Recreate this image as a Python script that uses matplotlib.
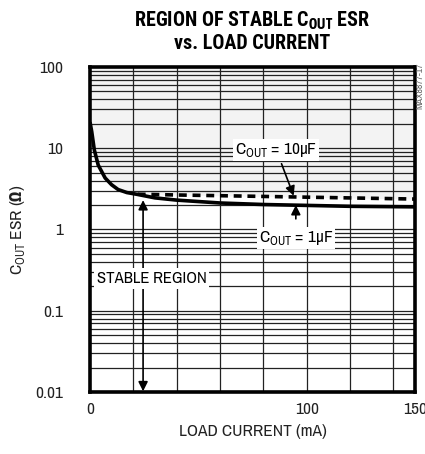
import matplotlib
matplotlib.use('Agg')
import matplotlib.pyplot as plt

plt.rcParams['font.family'] = ['Archivo Narrow', 'DejaVu Sans']
plt.rcParams['mathtext.fontset'] = 'custom'
plt.rcParams['mathtext.rm'] = 'Archivo Narrow'
plt.rcParams['mathtext.bf'] = 'Asap Condensed:bold'

TITLE_FONT = ['Roboto Condensed', 'Asap Condensed', 'DejaVu Sans']

# stability boundary, Cout = 1uF (solid)
load_1uF = [0, 0.8, 2, 3.8, 7, 10, 13, 17, 22, 30, 40, 60, 80, 100, 120, 150]
esr_1uF = [21, 16, 9.5, 6.2, 4.3, 3.55, 3.1, 2.85, 2.7, 2.45, 2.3, 2.12, 2.03, 1.98, 1.93, 1.9]

# stability boundary, Cout = 10uF (dashed)
load_10uF = [22, 40, 70, 100, 150]
esr_10uF = [2.72, 2.66, 2.58, 2.5, 2.37]

x_ticks = [0, 100, 150]
y_ticks = [0.01, 0.1, 1, 10, 100]
y_ticklabels = ['0.01', '0.1', '1', '10', '100']

fig = plt.figure(figsize=(4.25, 4.54), dpi=100)
ax = fig.add_axes((90 / 425, 62 / 454, 325 / 425, 325 / 454))
ax.set_yscale('log')
ax.set_xlim(0, 150)
ax.set_ylim(0.01, 100)

# unstable region shaded light gray above the upper boundary
fill_x = [x for x in load_1uF if x < 22] + load_10uF
fill_y = [y for x, y in zip(load_1uF, esr_1uF) if x < 22] + esr_10uF
ax.fill_between(fill_x, fill_y, 100, color='#f3f3f3', lw=0, zorder=0)

# grid
for gx in range(20, 150, 20):
    ax.axvline(gx, color='#222222', lw=0.9, zorder=1)
for dec in [0.01, 0.1, 1, 10]:
    for m in range(1, 10):
        ax.axhline(dec * m, color='#222222', lw=0.9, zorder=1)

ax.plot(load_1uF, esr_1uF, color='black', lw=2.6, zorder=3, solid_capstyle='butt')
ax.plot(load_10uF, esr_10uF, color='black', lw=2.6, ls=(0, (2.2, 1.6)), zorder=3)

ax.set_xticks(x_ticks)
ax.set_xticklabels([str(v) for v in x_ticks])
ax.set_yticks(y_ticks)
ax.set_yticklabels(y_ticklabels)
ax.minorticks_off()
ax.tick_params(length=0, labelsize=12.5, colors='#222222')
ax.tick_params(axis='x', pad=7)
ax.tick_params(axis='y', pad=19)
for s in ax.spines.values():
    s.set_linewidth(2.6)
    s.set_zorder(5)

box = dict(facecolor='white', edgecolor='none', pad=1.5)
ax.annotate('C$_\\mathregular{OUT}$ = 10μF', xy=(94, 2.6), xytext=(86, 9.5),
            ha='center', va='center', fontsize=12.5, bbox=box, zorder=4,
            arrowprops=dict(arrowstyle='-|>', color='black', lw=1.2,
                            mutation_scale=14, shrinkA=2, shrinkB=0))
ax.annotate('C$_\\mathregular{OUT}$ = 1μF', xy=(95, 2.0), xytext=(95, 0.78),
            ha='center', va='center', fontsize=12.5, bbox=box, zorder=4,
            arrowprops=dict(arrowstyle='-|>', color='black', lw=1.2,
                            mutation_scale=14, shrinkA=6, shrinkB=0))

# stable region double arrow
ax.annotate('', xy=(24.5, 2.3), xytext=(24.5, 0.0102),
            arrowprops=dict(arrowstyle='<|-|>', color='black', lw=1.2,
                            mutation_scale=14, shrinkA=0, shrinkB=0), zorder=3)
ax.text(28.5, 0.25, 'STABLE REGION', ha='center', va='center', fontsize=12,
        bbox=dict(facecolor='white', edgecolor='none', pad=2), zorder=4)

ax.set_xlabel('LOAD CURRENT (mA)', fontsize=12.5, labelpad=5, color='#222222')
ax.set_ylabel('C$_\\mathregular{OUT}$ ESR ($\\mathbf{\\Omega}$)', fontsize=12.5,
              labelpad=6, color='#222222')

fig.text(252 / 425, 1 - 31 / 454, 'REGION OF STABLE C$_\\mathbf{OUT}$ ESR\nvs. LOAD CURRENT',
         ha='center', va='center', fontsize=14.5, fontweight='bold', linespacing=1.15,
         family=TITLE_FONT)
fig.text(420 / 425, 1 - 86 / 454, 'MAX8877-17', rotation=90, ha='center', va='center',
         fontsize=7, color='#666666')

fig.savefig('out.png', dpi=100, facecolor='white')
